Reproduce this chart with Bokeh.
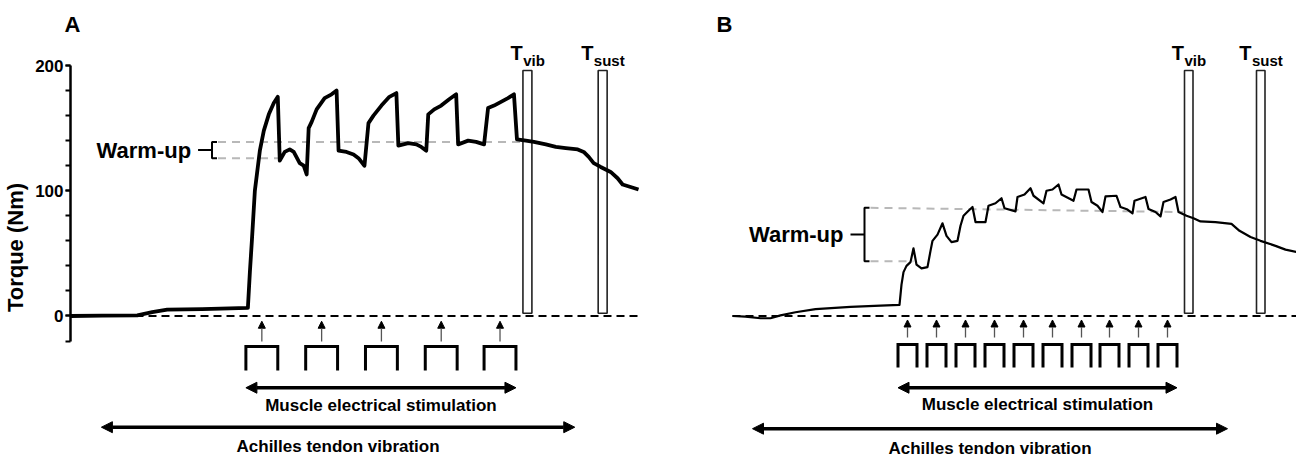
from bokeh.plotting import figure
from bokeh.layouts import row
from bokeh.models import Range1d, FixedTicker, Arrow, NormalHead, ColumnDataSource
from bokeh.embed import file_html
from bokeh.resources import INLINE
from bokeh.core.properties import value

# ---------------- data: panel A ----------------
a_time = [0, 32, 67, 82, 97, 132, 178, 180, 182, 185, 190, 194, 199, 204, 208,
          210, 215, 220, 224, 230, 234, 237, 239, 242, 247, 255, 262, 267,
          269, 277, 284, 289, 295, 299, 304, 312, 320, 327,
          329, 339, 347, 352, 357, 359, 365, 372, 380, 387,
          389, 399, 407, 415, 419, 425, 432, 439, 445,
          448, 457, 465, 477, 487, 497, 509, 515, 520, 525, 532, 542, 549, 554, 562, 570]
a_torque = [0, 0.3, 0.5, 3, 5, 5.5, 6.5, 35, 60, 100, 132, 148, 161, 170, 175,
            124, 131, 133, 131, 122, 120, 113, 150, 155, 165, 174, 177, 180,
            132, 131, 129, 126, 120, 154, 160, 168, 175, 178,
            136, 138, 137, 135, 132, 161, 165, 168, 173, 177,
            137, 140, 139, 137, 166, 168, 171, 174, 177,
            141, 140, 139, 137, 135, 134, 133, 131, 127, 122, 119, 115, 110, 105, 103, 101]
a_stim = [192, 252, 312, 372, 431]
a_warmup = [126, 139]          # warm-up torque levels (Nm)
a_warmup_end = [212, 454]      # where the warm-up guides end
a_tvib = [454, 463]
a_tsust = [529.5, 538.5]
a_vibration = [31, 506]
a_baseline = [0, 572]

# ---------------- data: panel B ----------------
b_time = [0, 13, 28, 38, 48, 63, 83, 118, 148, 167, 169, 171, 174, 178, 181, 184, 189, 195,
          198, 200, 205, 210, 214, 219, 225, 228, 231, 236, 240, 243, 253,
          256, 263, 269, 272, 283, 285, 292, 298, 301, 311, 314, 320, 326, 329, 341,
          344, 356, 359, 365, 370, 373, 384, 388, 395, 400, 402, 413, 416, 423, 428,
          431, 438, 443, 446, 454, 461, 468, 483, 499, 507, 518, 528, 543, 553, 564]
b_torque = [0, -0.5, -1.8, -1.8, 0.5, 3, 5.5, 7.3, 8.3, 8.8, 25, 35, 40, 43, 54, 41, 38, 39,
            52, 60, 65, 74, 64, 59, 60, 72, 80, 84, 87, 75, 75,
            88, 90, 94, 86, 83.5, 95, 97, 102, 96, 90, 100, 101, 105, 97, 92,
            101, 101, 91, 88, 83, 95.5, 96, 87, 85, 82, 92, 95, 85.5, 83, 79.5,
            91, 93, 95, 83, 80, 78, 75.5, 75, 73.5, 68, 63, 60, 56, 53, 51]
b_stim = [175, 204, 233, 262, 291, 320, 349, 377, 406, 435]
b_warmup = [43.8, 86.4]
b_warmup_top_end = 83.0
b_warmup_end = [181, 451]
b_tvib = [452, 460.5]
b_tsust = [524, 532.5]
b_vibration = [20, 495]
b_baseline = [0, 564]

FONT = "Liberation Sans"
Y_RANGE = (-113.0, 222.36)   # frame spans page rows 37..457
BOX_BOTTOM, BOX_TOP = 2.2, 196.0


def base_fig(x_range, title, title_offset, **kw):
    p = figure(width=648, height=457, x_range=Range1d(*x_range), y_range=Range1d(*Y_RANGE),
               output_backend="svg", toolbar_location=None, x_axis_location=None,
               min_border_right=0, min_border_top=37, min_border_bottom=0, **kw)
    p.outline_line_color = None
    p.grid.visible = False
    p.background_fill_color = "white"
    p.border_fill_color = "white"
    p.title.text = title
    p.title.align = "left"
    p.title.offset = title_offset
    p.title.standoff = 1
    p.title.text_font = FONT
    p.title.text_font_style = "bold"
    p.title.text_font_size = "22px"
    p.title.text_color = "black"
    return p


def txt(p, x, y, s, size, align="center", baseline="middle", x_off=0, y_off=0):
    p.text(x=[x], y=[y], text=[s], text_align=align, text_baseline=baseline,
           text_font=value(FONT), text_font_style="bold", text_font_size=size,
           text_color="black", x_offset=x_off, y_offset=y_off)


def decorate(p, time, torque, trace_w, stim, half, arrow_y, pulse_y, warm, warm_end, warm_top_end,
             bracket_x, tvib, tsust, vib, baseline, stim_arrow_y, txt_y, ach_y, ach_txt_y):
    # baseline
    p.line(baseline, [0, 0], line_color="black", line_width=2, line_dash="8 5")
    # T boxes
    p.quad(left=[tvib[0], tsust[0]], right=[tvib[1], tsust[1]], bottom=BOX_BOTTOM, top=BOX_TOP,
           fill_alpha=0, line_color="#222222", line_width=1.6)
    for box, sub, w in ((tvib, "vib", 21.7), (tsust, "sust", 30.8)):
        c = (box[0] + box[1]) / 2
        joint = (12.2 - w) / 2
        txt(p, c, BOX_TOP, "T", "20px", align="right", baseline="alphabetic", x_off=joint, y_off=-18)
        txt(p, c, BOX_TOP, sub, "15px", align="left", baseline="alphabetic", x_off=joint + 0.5, y_off=-10)
    # warm-up guides
    p.line([bracket_x + 6, warm_end[1]], [warm[1], warm_top_end], line_color="#b8b8b8",
           line_width=2, line_dash="8 6")
    p.line([bracket_x + 6, warm_end[0]], [warm[0], warm[0]], line_color="#b8b8b8",
           line_width=2, line_dash="8 6")
    mid = (warm[0] + warm[1]) / 2
    p.multi_line(xs=[[bracket_x + 5, bracket_x, bracket_x, bracket_x + 5], [bracket_x - 14, bracket_x]],
                 ys=[[warm[0], warm[0], warm[1], warm[1]], [mid, mid]],
                 line_color="black", line_width=2)
    txt(p, bracket_x - 21, mid, "Warm-up", "22px", align="right")
    # trace
    p.line(time, torque, line_color="black", line_width=trace_w, line_join="round")
    # stimulation arrows
    src = ColumnDataSource(dict(x0=stim, x1=stim, y0=[arrow_y[0]] * len(stim), y1=[arrow_y[1]] * len(stim)))
    p.add_layout(Arrow(source=src, x_start="x0", y_start="y0", x_end="x1", y_end="y1",
                       line_color="#555555", line_width=1.3,
                       end=NormalHead(size=7, fill_color="black", line_color="black", line_width=1)))
    # pulses
    p.multi_line(xs=[[s - half, s - half, s + half, s + half] for s in stim],
                 ys=[[pulse_y[0], pulse_y[1], pulse_y[1], pulse_y[0]] for _ in stim],
                 line_color="black", line_width=3, line_join="miter")
    # muscle stimulation double arrow
    m0, m1 = stim[0] - half, stim[-1] + half
    p.add_layout(Arrow(x_start=m0, y_start=stim_arrow_y, x_end=m1, y_end=stim_arrow_y,
                       line_color="black", line_width=3.5,
                       start=NormalHead(size=11, fill_color="black", line_color="black"),
                       end=NormalHead(size=11, fill_color="black", line_color="black")))
    txt(p, (m0 + m1) / 2, txt_y, "Muscle electrical stimulation", "17px")
    p.add_layout(Arrow(x_start=vib[0], y_start=ach_y, x_end=vib[1], y_end=ach_y,
                       line_color="black", line_width=3.5,
                       start=NormalHead(size=11, fill_color="black", line_color="black"),
                       end=NormalHead(size=11, fill_color="black", line_color="black")))
    txt(p, (vib[0] + vib[1]) / 2, ach_txt_y, "Achilles tendon vibration", "17px")


# ---------------- panel A ----------------
pa = base_fig((0, 580), "A", -6, min_border_left=68)

ax = pa.yaxis[0]
ax.bounds = (-20, 200)
ax.ticker = FixedTicker(ticks=[0, 100, 200], minor_ticks=list(range(-20, 201, 20)))
ax.axis_line_width = 2.5
ax.axis_line_color = "black"
ax.major_tick_out = 5
ax.major_tick_in = 0
ax.minor_tick_out = 5
ax.minor_tick_in = 0
ax.major_tick_line_width = 2
ax.minor_tick_line_width = 2
ax.major_label_standoff = 2
ax.major_label_text_font = FONT
ax.major_label_text_font_style = "bold"
ax.major_label_text_font_size = "17px"
ax.major_label_text_color = "black"
ax.axis_label = "Torque (Nm)"
ax.axis_label_text_font = FONT
ax.axis_label_text_font_style = "bold"
ax.axis_label_text_font_size = "22px"
ax.axis_label_text_color = "black"
ax.axis_label_standoff = 4

decorate(pa, a_time, a_torque, 3.8, a_stim, 16, (-20.4, -4.2), (-43.5, -24.4),
         a_warmup, a_warmup_end, a_warmup[1], 142, a_tvib, a_tsust, a_vibration, a_baseline,
         -57.3, -71.5, -88.8, -104.2)

# ---------------- panel B ----------------
pb = base_fig((-84, 564), "B", 68, min_border_left=0, y_axis_location=None)
decorate(pb, b_time, b_torque, 2.2, b_stim, 9.5, (-17.2, -3.2), (-41.1, -22.8),
         b_warmup, b_warmup_end, b_warmup_top_end, 132, b_tvib, b_tsust, b_vibration, b_baseline,
         -57.3, -70.5, -90.0, -105.8)

layout = row(pa, pb)
open("out.html", "w").write(file_html(layout, INLINE))
